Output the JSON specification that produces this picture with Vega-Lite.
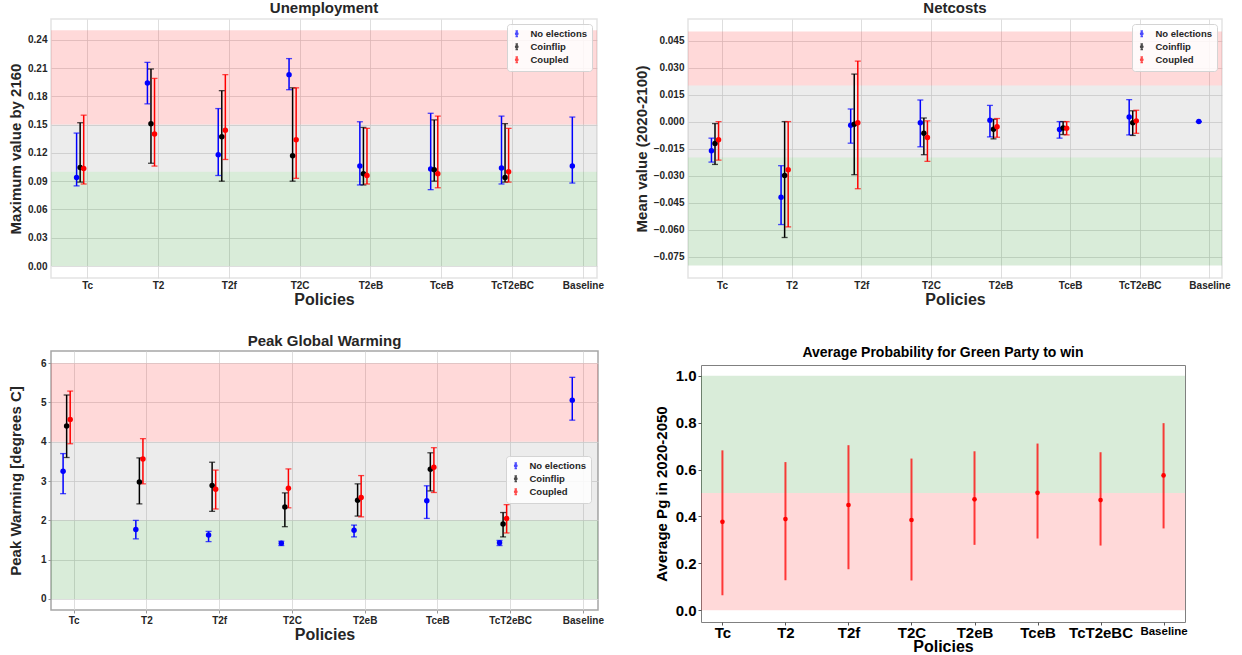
{
  "$schema": "https://vega.github.io/schema/vega-lite/v6.json",
  "background": "white",
  "padding": {"left": 7, "top": 0, "right": 0, "bottom": 0},
  "spacing": 25,
  "config": {
    "font": "Liberation Sans",
    "view": {"stroke": "#e3e3e3", "strokeWidth": 1.5},
    "axis": {
      "labelFont": "Liberation Sans", "titleFont": "Liberation Sans",
      "labelFontWeight": "bold", "titleFontWeight": "bold",
      "labelColor": "#262626", "titleColor": "#262626",
      "domain": false, "ticks": false, "tickSize": 0, "labelOverlap": false,
      "gridColor": "#d6d6d6", "gridWidth": 0.8,
      "labelFontSize": 10, "titleFontSize": 16
    },
    "legend": {
      "labelFont": "Liberation Sans", "labelFontWeight": "bold", "labelFontSize": 9.5, "labelColor": "#262626",
      "padding": 5, "fillColor": "rgba(255,255,255,0.85)", "strokeColor": "#d4d4d4", "cornerRadius": 3,
      "offset": 5, "symbolStrokeWidth": 1.3, "symbolSize": 30, "labelOffset": 9, "rowPadding": 1,
      "symbolType": "M0,-1V1M-0.45,-1H0.45M-0.45,1H0.45M0.45,0A0.45,0.45,0,1,1,-0.45,0A0.45,0.45,0,1,1,0.45,0Z"
    },
    "title": {"font": "Liberation Sans", "fontSize": 15, "fontWeight": "bold", "frame": "group", "color": "#262626", "offset": 3}
  },
  "resolve": {"scale": {"color": "independent"}, "legend": {"color": "independent"}},
  "datasets": {
    "bands": [
      {"chart": "unemp", "zone": "bad", "lo": 0.15, "hi": 0.25},
      {"chart": "unemp", "zone": "mid", "lo": 0.10, "hi": 0.15},
      {"chart": "unemp", "zone": "good", "lo": 0.0, "hi": 0.10},
      {"chart": "netcosts", "zone": "bad", "lo": 0.02, "hi": 0.05},
      {"chart": "netcosts", "zone": "mid", "lo": -0.02, "hi": 0.02},
      {"chart": "netcosts", "zone": "good", "lo": -0.08, "hi": -0.02},
      {"chart": "warming", "zone": "bad", "lo": 4, "hi": 6},
      {"chart": "warming", "zone": "mid", "lo": 2, "hi": 4},
      {"chart": "warming", "zone": "good", "lo": 0, "hi": 2},
      {"chart": "prob", "zone": "good", "lo": 0.5, "hi": 1.0},
      {"chart": "prob", "zone": "bad", "lo": 0.0, "hi": 0.5}
    ],
    "unemp": [
      {"policy": "Tc", "series": "No elections", "mean": 0.094, "lo": 0.085, "hi": 0.141},
      {"policy": "Tc", "series": "Coinflip", "mean": 0.1045, "lo": 0.089, "hi": 0.152},
      {"policy": "Tc", "series": "Coupled", "mean": 0.1035, "lo": 0.087, "hi": 0.160},
      {"policy": "T2", "series": "No elections", "mean": 0.194, "lo": 0.172, "hi": 0.216},
      {"policy": "T2", "series": "Coinflip", "mean": 0.151, "lo": 0.109, "hi": 0.209},
      {"policy": "T2", "series": "Coupled", "mean": 0.140, "lo": 0.106, "hi": 0.199},
      {"policy": "T2f", "series": "No elections", "mean": 0.118, "lo": 0.096, "hi": 0.167},
      {"policy": "T2f", "series": "Coinflip", "mean": 0.137, "lo": 0.090, "hi": 0.186},
      {"policy": "T2f", "series": "Coupled", "mean": 0.144, "lo": 0.113, "hi": 0.203},
      {"policy": "T2C", "series": "No elections", "mean": 0.203, "lo": 0.187, "hi": 0.220},
      {"policy": "T2C", "series": "Coinflip", "mean": 0.117, "lo": 0.090, "hi": 0.189},
      {"policy": "T2C", "series": "Coupled", "mean": 0.134, "lo": 0.093, "hi": 0.189},
      {"policy": "T2eB", "series": "No elections", "mean": 0.106, "lo": 0.086, "hi": 0.153},
      {"policy": "T2eB", "series": "Coinflip", "mean": 0.098, "lo": 0.086, "hi": 0.147},
      {"policy": "T2eB", "series": "Coupled", "mean": 0.096, "lo": 0.087, "hi": 0.146},
      {"policy": "TceB", "series": "No elections", "mean": 0.103, "lo": 0.081, "hi": 0.162},
      {"policy": "TceB", "series": "Coinflip", "mean": 0.102, "lo": 0.090, "hi": 0.155},
      {"policy": "TceB", "series": "Coupled", "mean": 0.098, "lo": 0.083, "hi": 0.159},
      {"policy": "TcT2eBC", "series": "No elections", "mean": 0.104, "lo": 0.087, "hi": 0.159},
      {"policy": "TcT2eBC", "series": "Coinflip", "mean": 0.094, "lo": 0.089, "hi": 0.151},
      {"policy": "TcT2eBC", "series": "Coupled", "mean": 0.100, "lo": 0.089, "hi": 0.146},
      {"policy": "Baseline", "series": "No elections", "mean": 0.106, "lo": 0.088, "hi": 0.158}
    ],
    "netcosts": [
      {"policy": "Tc", "series": "No elections", "mean": -0.0162, "lo": -0.0225, "hi": -0.0092},
      {"policy": "Tc", "series": "Coinflip", "mean": -0.0122, "lo": -0.0238, "hi": -0.0011},
      {"policy": "Tc", "series": "Coupled", "mean": -0.0101, "lo": -0.0214, "hi": 0.0},
      {"policy": "T2", "series": "No elections", "mean": -0.042, "lo": -0.0572, "hi": -0.0245},
      {"policy": "T2", "series": "Coinflip", "mean": -0.030, "lo": -0.0644, "hi": 0.0},
      {"policy": "T2", "series": "Coupled", "mean": -0.0267, "lo": -0.0585, "hi": 0.0},
      {"policy": "T2f", "series": "No elections", "mean": -0.002, "lo": -0.012, "hi": 0.007},
      {"policy": "T2f", "series": "Coinflip", "mean": -0.0015, "lo": -0.0295, "hi": 0.0264},
      {"policy": "T2f", "series": "Coupled", "mean": -0.0006, "lo": -0.0373, "hi": 0.0336},
      {"policy": "T2C", "series": "No elections", "mean": -0.0007, "lo": -0.014, "hi": 0.012},
      {"policy": "T2C", "series": "Coinflip", "mean": -0.0065, "lo": -0.0184, "hi": 0.002},
      {"policy": "T2C", "series": "Coupled", "mean": -0.0089, "lo": -0.0221, "hi": 0.0004},
      {"policy": "T2eB", "series": "No elections", "mean": 0.0007, "lo": -0.0085, "hi": 0.009},
      {"policy": "T2eB", "series": "Coinflip", "mean": -0.0042, "lo": -0.0096, "hi": 0.0013},
      {"policy": "T2eB", "series": "Coupled", "mean": -0.0028, "lo": -0.0087, "hi": 0.0017},
      {"policy": "TceB", "series": "No elections", "mean": -0.0044, "lo": -0.0092, "hi": 0.0},
      {"policy": "TceB", "series": "Coinflip", "mean": -0.0035, "lo": -0.0072, "hi": 0.0},
      {"policy": "TceB", "series": "Coupled", "mean": -0.0037, "lo": -0.0074, "hi": 0.0},
      {"policy": "TcT2eBC", "series": "No elections", "mean": 0.0026, "lo": -0.0074, "hi": 0.0122},
      {"policy": "TcT2eBC", "series": "Coinflip", "mean": -0.0006, "lo": -0.0077, "hi": 0.006},
      {"policy": "TcT2eBC", "series": "Coupled", "mean": 0.0004, "lo": -0.0065, "hi": 0.0063},
      {"policy": "Baseline", "series": "No elections", "mean": 0.0, "lo": 0.0, "hi": 0.0}
    ],
    "warming": [
      {"policy": "Tc", "series": "No elections", "mean": 3.25, "lo": 2.68, "hi": 3.70},
      {"policy": "Tc", "series": "Coinflip", "mean": 4.40, "lo": 3.60, "hi": 5.19},
      {"policy": "Tc", "series": "Coupled", "mean": 4.57, "lo": 3.95, "hi": 5.29},
      {"policy": "T2", "series": "No elections", "mean": 1.77, "lo": 1.53, "hi": 2.00},
      {"policy": "T2", "series": "Coinflip", "mean": 2.98, "lo": 2.42, "hi": 3.59},
      {"policy": "T2", "series": "Coupled", "mean": 3.56, "lo": 2.93, "hi": 4.08},
      {"policy": "T2f", "series": "No elections", "mean": 1.63, "lo": 1.46, "hi": 1.72},
      {"policy": "T2f", "series": "Coinflip", "mean": 2.89, "lo": 2.23, "hi": 3.48},
      {"policy": "T2f", "series": "Coupled", "mean": 2.79, "lo": 2.29, "hi": 3.28},
      {"policy": "T2C", "series": "No elections", "mean": 1.42, "lo": 1.36, "hi": 1.47},
      {"policy": "T2C", "series": "Coinflip", "mean": 2.34, "lo": 1.84, "hi": 2.70},
      {"policy": "T2C", "series": "Coupled", "mean": 2.82, "lo": 2.32, "hi": 3.31},
      {"policy": "T2eB", "series": "No elections", "mean": 1.75, "lo": 1.58, "hi": 1.88},
      {"policy": "T2eB", "series": "Coinflip", "mean": 2.51, "lo": 2.11, "hi": 2.93},
      {"policy": "T2eB", "series": "Coupled", "mean": 2.58, "lo": 2.09, "hi": 3.14},
      {"policy": "TceB", "series": "No elections", "mean": 2.50, "lo": 2.05, "hi": 2.88},
      {"policy": "TceB", "series": "Coinflip", "mean": 3.30, "lo": 2.75, "hi": 3.72},
      {"policy": "TceB", "series": "Coupled", "mean": 3.35, "lo": 2.71, "hi": 3.85},
      {"policy": "TcT2eBC", "series": "No elections", "mean": 1.43, "lo": 1.36, "hi": 1.49},
      {"policy": "TcT2eBC", "series": "Coinflip", "mean": 1.91, "lo": 1.58, "hi": 2.20},
      {"policy": "TcT2eBC", "series": "Coupled", "mean": 2.05, "lo": 1.68, "hi": 2.40},
      {"policy": "Baseline", "series": "No elections", "mean": 5.06, "lo": 4.55, "hi": 5.64}
    ],
    "prob": [
      {"policy": "Tc", "mean": 0.377, "lo": 0.064, "hi": 0.682},
      {"policy": "T2", "mean": 0.389, "lo": 0.128, "hi": 0.632},
      {"policy": "T2f", "mean": 0.449, "lo": 0.175, "hi": 0.704},
      {"policy": "T2C", "mean": 0.385, "lo": 0.127, "hi": 0.647},
      {"policy": "T2eB", "mean": 0.473, "lo": 0.279, "hi": 0.678},
      {"policy": "TceB", "mean": 0.501, "lo": 0.306, "hi": 0.711},
      {"policy": "TcT2eBC", "mean": 0.470, "lo": 0.276, "hi": 0.674},
      {"policy": "Baseline", "mean": 0.575, "lo": 0.349, "hi": 0.798}
    ]
  },
  "vconcat": [
    {
      "spacing": 28,
      "resolve": {"scale": {"color": "independent"}, "legend": {"color": "independent"}},
      "hconcat": [
        {
          "width": 546, "height": 259,
          "title": {"text": "Unemployment"},
          "layer": [
            {
              "data": {"name": "bands"},
              "transform": [{"filter": "datum.chart === 'unemp'"}],
              "mark": {"type": "rect", "opacity": 0.15},
              "encoding": {
                "y": {"field": "lo", "type": "quantitative",
                      "scale": {"domain": [-0.0127, 0.262], "nice": false, "zero": false},
                      "axis": {"title": "Maximum value by 2160", "values": [0, 0.03, 0.06, 0.09, 0.12, 0.15, 0.18, 0.21, 0.24], "format": ".2f", "grid": true, "titleFontSize": 15, "labelPadding": 4, "titlePadding": 4}},
                "y2": {"field": "hi"},
                "fill": {"field": "zone", "type": "nominal", "scale": {"domain": ["bad", "mid", "good"], "range": ["#ff0000", "#808080", "#008000"]}, "legend": null}
              }
            },
            {
              "data": {"name": "unemp"},
              "encoding": {
                "x": {"field": "policy", "type": "nominal",
                      "scale": {"type": "point", "domain": ["Tc", "T2", "T2f", "T2C", "T2eB", "TceB", "TcT2eBC", "Baseline"], "padding": 0.355, "align": 0.72},
                      "axis": {"title": "Policies", "labelAngle": 0, "grid": true, "labelPadding": 2, "titlePadding": 1}},
                "xOffset": {"field": "series", "type": "nominal", "scale": {"type": "point", "domain": ["No elections", "Coinflip", "Coupled"], "range": [-10.6, -3.5], "padding": 0}},
                "color": {"field": "series", "type": "nominal", "scale": {"domain": ["No elections", "Coinflip", "Coupled"], "range": ["#0000ff", "#000000", "#ff0000"]},
                          "legend": {"title": null, "orient": "top-right"}}
              },
              "layer": [
                {"mark": {"type": "rule", "strokeWidth": 1.5},
                 "encoding": {"y": {"field": "lo", "type": "quantitative", "scale": {"domain": [-0.0127, 0.262], "nice": false, "zero": false},
                      "axis": {"title": "Maximum value by 2160", "values": [0, 0.03, 0.06, 0.09, 0.12, 0.15, 0.18, 0.21, 0.24], "format": ".2f", "grid": true, "titleFontSize": 15, "labelPadding": 4, "titlePadding": 4}}, "y2": {"field": "hi"}}},
                {"mark": {"type": "tick", "size": 6, "thickness": 1.3, "opacity": 0.7},
                 "encoding": {"y": {"field": "lo", "type": "quantitative", "scale": {"domain": [-0.0127, 0.262], "nice": false, "zero": false},
                      "axis": {"title": "Maximum value by 2160", "values": [0, 0.03, 0.06, 0.09, 0.12, 0.15, 0.18, 0.21, 0.24], "format": ".2f", "grid": true, "titleFontSize": 15, "labelPadding": 4, "titlePadding": 4}}}},
                {"mark": {"type": "tick", "size": 6, "thickness": 1.3, "opacity": 0.7},
                 "encoding": {"y": {"field": "hi", "type": "quantitative", "scale": {"domain": [-0.0127, 0.262], "nice": false, "zero": false},
                      "axis": {"title": "Maximum value by 2160", "values": [0, 0.03, 0.06, 0.09, 0.12, 0.15, 0.18, 0.21, 0.24], "format": ".2f", "grid": true, "titleFontSize": 15, "labelPadding": 4, "titlePadding": 4}}}},
                {"mark": {"type": "circle", "size": 30, "opacity": 1},
                 "encoding": {"y": {"field": "mean", "type": "quantitative", "scale": {"domain": [-0.0127, 0.262], "nice": false, "zero": false},
                      "axis": {"title": "Maximum value by 2160", "values": [0, 0.03, 0.06, 0.09, 0.12, 0.15, 0.18, 0.21, 0.24], "format": ".2f", "grid": true, "titleFontSize": 15, "labelPadding": 4, "titlePadding": 4}}}}
              ]
            }
          ]
        },
        {
          "width": 534, "height": 259,
          "title": {"text": "Netcosts"},
          "layer": [
            {
              "data": {"name": "bands"},
              "transform": [{"filter": "datum.chart === 'netcosts'"}],
              "mark": {"type": "rect", "opacity": 0.15},
              "encoding": {
                "y": {"field": "lo", "type": "quantitative",
                      "scale": {"domain": [-0.0869, 0.057], "nice": false, "zero": false},
                      "axis": {"title": "Mean value (2020-2100)", "values": [-0.075, -0.06, -0.045, -0.03, -0.015, 0, 0.015, 0.03, 0.045], "format": ".3f", "grid": true, "titleFontSize": 15, "labelPadding": 4, "titlePadding": 4}},
                "y2": {"field": "hi"},
                "fill": {"field": "zone", "type": "nominal", "scale": {"domain": ["bad", "mid", "good"], "range": ["#ff0000", "#808080", "#008000"]}, "legend": null}
              }
            },
            {
              "data": {"name": "netcosts"},
              "encoding": {
                "x": {"field": "policy", "type": "nominal",
                      "scale": {"type": "point", "domain": ["Tc", "T2", "T2f", "T2C", "T2eB", "TceB", "TcT2eBC", "Baseline"], "padding": 0.335, "align": 0.73},
                      "axis": {"title": "Policies", "labelAngle": 0, "grid": true, "labelPadding": 2, "titlePadding": 1}},
                "xOffset": {"field": "series", "type": "nominal", "scale": {"type": "point", "domain": ["No elections", "Coinflip", "Coupled"], "range": [-10.4, -3.5], "padding": 0}},
                "color": {"field": "series", "type": "nominal", "scale": {"domain": ["No elections", "Coinflip", "Coupled"], "range": ["#0000ff", "#000000", "#ff0000"]},
                          "legend": {"title": null, "orient": "top-right"}}
              },
              "layer": [
                {"mark": {"type": "rule", "strokeWidth": 1.5},
                 "encoding": {"y": {"field": "lo", "type": "quantitative", "scale": {"domain": [-0.0869, 0.057], "nice": false, "zero": false},
                      "axis": {"title": "Mean value (2020-2100)", "values": [-0.075, -0.06, -0.045, -0.03, -0.015, 0, 0.015, 0.03, 0.045], "format": ".3f", "grid": true, "titleFontSize": 15, "labelPadding": 4, "titlePadding": 4}}, "y2": {"field": "hi"}}},
                {"mark": {"type": "tick", "size": 6, "thickness": 1.3, "opacity": 0.7},
                 "encoding": {"y": {"field": "lo", "type": "quantitative", "scale": {"domain": [-0.0869, 0.057], "nice": false, "zero": false},
                      "axis": {"title": "Mean value (2020-2100)", "values": [-0.075, -0.06, -0.045, -0.03, -0.015, 0, 0.015, 0.03, 0.045], "format": ".3f", "grid": true, "titleFontSize": 15, "labelPadding": 4, "titlePadding": 4}}}},
                {"mark": {"type": "tick", "size": 6, "thickness": 1.3, "opacity": 0.7},
                 "encoding": {"y": {"field": "hi", "type": "quantitative", "scale": {"domain": [-0.0869, 0.057], "nice": false, "zero": false},
                      "axis": {"title": "Mean value (2020-2100)", "values": [-0.075, -0.06, -0.045, -0.03, -0.015, 0, 0.015, 0.03, 0.045], "format": ".3f", "grid": true, "titleFontSize": 15, "labelPadding": 4, "titlePadding": 4}}}},
                {"mark": {"type": "circle", "size": 30, "opacity": 1},
                 "encoding": {"y": {"field": "mean", "type": "quantitative", "scale": {"domain": [-0.0869, 0.057], "nice": false, "zero": false},
                      "axis": {"title": "Mean value (2020-2100)", "values": [-0.075, -0.06, -0.045, -0.03, -0.015, 0, 0.015, 0.03, 0.045], "format": ".3f", "grid": true, "titleFontSize": 15, "labelPadding": 4, "titlePadding": 4}}}}
              ]
            }
          ]
        }
      ]
    },
    {
      "spacing": 48,
      "resolve": {"scale": {"color": "independent"}, "legend": {"color": "independent"}},
      "hconcat": [
        {
          "width": 547, "height": 259,
          "title": {"text": "Peak Global Warming", "offset": 2},
          "view": {"stroke": "#a6a6a6", "strokeWidth": 1.5},
          "layer": [
            {
              "data": {"name": "bands"},
              "transform": [{"filter": "datum.chart === 'warming'"}],
              "mark": {"type": "rect", "opacity": 0.15},
              "encoding": {
                "y": {"field": "lo", "type": "quantitative",
                      "scale": {"domain": [-0.28, 6.31], "nice": false, "zero": false},
                      "axis": {"title": "Peak Warming [degrees C]", "values": [0, 1, 2, 3, 4, 5, 6], "format": "d", "grid": true, "titleFontSize": 15, "labelPadding": 2, "titlePadding": 17, "ticks": true, "tickSize": 3, "tickColor": "#999999"}},
                "y2": {"field": "hi"},
                "fill": {"field": "zone", "type": "nominal", "scale": {"domain": ["bad", "mid", "good"], "range": ["#ff0000", "#808080", "#008000"]}, "legend": null}
              }
            },
            {
              "data": {"name": "warming"},
              "encoding": {
                "x": {"field": "policy", "type": "nominal",
                      "scale": {"type": "point", "domain": ["Tc", "T2", "T2f", "T2C", "T2eB", "TceB", "TcT2eBC", "Baseline"], "padding": 0.26, "align": 0.6},
                      "axis": {"title": "Policies", "labelAngle": 0, "grid": true, "labelPadding": 2, "titlePadding": 1, "ticks": true, "tickSize": 3, "tickColor": "#999999"}},
                "xOffset": {"field": "series", "type": "nominal", "scale": {"type": "point", "domain": ["No elections", "Coinflip", "Coupled"], "range": [-10.4, -3.1], "padding": 0}},
                "color": {"field": "series", "type": "nominal", "scale": {"domain": ["No elections", "Coinflip", "Coupled"], "range": ["#0000ff", "#000000", "#ff0000"]},
                          "legend": {"title": null, "orient": "none", "legendX": 455, "legendY": 105}}
              },
              "layer": [
                {"mark": {"type": "rule", "strokeWidth": 1.5},
                 "encoding": {"y": {"field": "lo", "type": "quantitative", "scale": {"domain": [-0.28, 6.31], "nice": false, "zero": false},
                      "axis": {"title": "Peak Warming [degrees C]", "values": [0, 1, 2, 3, 4, 5, 6], "format": "d", "grid": true, "titleFontSize": 15, "labelPadding": 2, "titlePadding": 17, "ticks": true, "tickSize": 3, "tickColor": "#999999"}}, "y2": {"field": "hi"}}},
                {"mark": {"type": "tick", "size": 6, "thickness": 1.3, "opacity": 0.7},
                 "encoding": {"y": {"field": "lo", "type": "quantitative", "scale": {"domain": [-0.28, 6.31], "nice": false, "zero": false},
                      "axis": {"title": "Peak Warming [degrees C]", "values": [0, 1, 2, 3, 4, 5, 6], "format": "d", "grid": true, "titleFontSize": 15, "labelPadding": 2, "titlePadding": 17, "ticks": true, "tickSize": 3, "tickColor": "#999999"}}}},
                {"mark": {"type": "tick", "size": 6, "thickness": 1.3, "opacity": 0.7},
                 "encoding": {"y": {"field": "hi", "type": "quantitative", "scale": {"domain": [-0.28, 6.31], "nice": false, "zero": false},
                      "axis": {"title": "Peak Warming [degrees C]", "values": [0, 1, 2, 3, 4, 5, 6], "format": "d", "grid": true, "titleFontSize": 15, "labelPadding": 2, "titlePadding": 17, "ticks": true, "tickSize": 3, "tickColor": "#999999"}}}},
                {"mark": {"type": "circle", "size": 30, "opacity": 1},
                 "encoding": {"y": {"field": "mean", "type": "quantitative", "scale": {"domain": [-0.28, 6.31], "nice": false, "zero": false},
                      "axis": {"title": "Peak Warming [degrees C]", "values": [0, 1, 2, 3, 4, 5, 6], "format": "d", "grid": true, "titleFontSize": 15, "labelPadding": 2, "titlePadding": 17, "ticks": true, "tickSize": 3, "tickColor": "#999999"}}}}
              ]
            }
          ]
        },
        {
          "spacing": 4,
          "vconcat": [
            {
              "width": 484, "height": 1,
              "view": {"stroke": null},
              "title": {"text": "Average Probability for Green Party to win", "fontSize": 14, "offset": 0, "dy": 14, "color": "#000000"},
              "data": {"values": [{"k": 0}]},
              "mark": {"type": "text"},
              "encoding": {"text": {"value": ""}}
            },
            {
              "width": 484, "height": 257,
              "view": {"stroke": "#808080", "strokeWidth": 1},
              "layer": [
                {
                  "data": {"name": "bands"},
                  "transform": [{"filter": "datum.chart === 'prob'"}],
                  "mark": {"type": "rect", "opacity": 0.15},
                  "encoding": {
                    "y": {"field": "lo", "type": "quantitative",
                          "scale": {"domain": [-0.05, 1.046], "nice": false, "zero": false},
                          "axis": {"title": "Average Pg in 2020-2050", "values": [0, 0.2, 0.4, 0.6, 0.8, 1.0], "format": ".1f", "grid": false, "labelFontSize": 15, "labelColor": "#000000", "titleColor": "#000000", "titleFontSize": 15, "labelPadding": 2, "titlePadding": 6, "ticks": true, "tickSize": 3, "tickColor": "#555555"}},
                    "y2": {"field": "hi"},
                    "fill": {"field": "zone", "type": "nominal", "scale": {"domain": ["bad", "mid", "good"], "range": ["#ff0000", "#808080", "#008000"]}, "legend": null}
                  }
                },
                {
                  "data": {"name": "prob"},
                  "encoding": {
                    "x": {"field": "policy", "type": "nominal",
                          "scale": {"type": "point", "domain": ["Tc", "T2", "T2f", "T2C", "T2eB", "TceB", "TcT2eBC", "Baseline"], "padding": 0.34, "align": 0.5},
                          "axis": {"title": "Policies", "labelAngle": 0, "grid": false, "labelFontSize": {"condition": {"test": "datum.value === 'Baseline'", "value": 11.5}, "value": 15}, "labelColor": "#000000", "titleColor": "#000000", "titleFontSize": 16, "labelPadding": 0, "titlePadding": -2, "ticks": true, "tickSize": 3, "tickColor": "#555555"}}
                  },
                  "layer": [
                    {"mark": {"type": "rule", "strokeWidth": 2, "color": "#ff0000", "opacity": 0.75},
                     "encoding": {"y": {"field": "lo", "type": "quantitative", "scale": {"domain": [-0.05, 1.046], "nice": false, "zero": false},
                          "axis": {"title": "Average Pg in 2020-2050", "values": [0, 0.2, 0.4, 0.6, 0.8, 1.0], "format": ".1f", "grid": false, "labelFontSize": 15, "labelColor": "#000000", "titleColor": "#000000", "titleFontSize": 15, "labelPadding": 2, "titlePadding": 6, "ticks": true, "tickSize": 3, "tickColor": "#555555"}}, "y2": {"field": "hi"}}},
                    {"mark": {"type": "circle", "size": 22, "opacity": 1, "color": "#ff0000"},
                     "encoding": {"y": {"field": "mean", "type": "quantitative", "scale": {"domain": [-0.05, 1.046], "nice": false, "zero": false},
                          "axis": {"title": "Average Pg in 2020-2050", "values": [0, 0.2, 0.4, 0.6, 0.8, 1.0], "format": ".1f", "grid": false, "labelFontSize": 15, "labelColor": "#000000", "titleColor": "#000000", "titleFontSize": 15, "labelPadding": 2, "titlePadding": 6, "ticks": true, "tickSize": 3, "tickColor": "#555555"}}}}
                  ]
                }
              ]
            }
          ]
        }
      ]
    }
  ]
}
